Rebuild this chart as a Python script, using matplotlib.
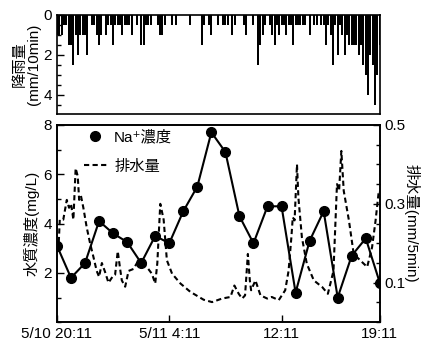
import matplotlib
matplotlib.use('Agg')
import matplotlib.pyplot as plt
from matplotlib.lines import Line2D
from matplotlib.ticker import MultipleLocator

plt.rcParams['font.family'] = ['Liberation Sans', 'Noto Sans CJK JP', 'DejaVu Sans']
plt.rcParams['font.size'] = 11

# hours after 5/10 20:11
xtick_pos = [0, 8, 16, 23]
xtick_labels = ['5/10 20:11', '5/11 4:11', '12:11', '19:11']

# rainfall every 10 min (mm/10min)
rain = [1.0, 1.0, 1.0, 0.5, 0.5, 1.5, 1.5, 2.5, 1.0, 2.0,
        1.0, 1.0, 1.0, 2.0, 0.0, 0.5, 0.5, 1.0, 1.5, 1.0,
        0.0, 1.0, 0.5, 0.5, 1.5, 0.5, 0.5, 0.5, 1.0, 0.5,
        0.5, 0.5, 1.0, 0.0, 0.5, 0.0, 1.5, 1.5, 0.5, 0.5,
        0.5, 0.0, 0.0, 0.5, 1.0, 1.0, 0.5, 0.0, 0.0, 0.5,
        0.0, 0.5, 0.0, 0.0, 0.0, 0.0, 0.0, 0.5, 0.0, 0.0,
        0.0, 0.0, 1.5, 0.5, 0.0, 0.5, 1.0, 0.0, 0.0, 0.5,
        0.0, 0.5, 0.5, 0.5, 0.0, 1.0, 0.5, 0.0, 0.0, 0.0,
        0.5, 1.0, 0.0, 0.0, 0.5, 0.0, 2.5, 1.5, 1.0, 0.5,
        0.0, 0.5, 1.0, 1.5, 0.5, 1.0, 0.5, 0.5, 1.0, 0.5,
        0.5, 1.5, 0.5, 0.5, 0.5, 0.5, 0.5, 0.0, 1.0, 0.0,
        0.5, 0.5, 0.0, 0.5, 0.5, 1.5, 0.5, 1.0, 2.5, 0.5,
        2.0, 0.5, 1.0, 2.0, 1.0, 1.5, 1.5, 1.5, 1.5, 2.0,
        1.5, 2.5, 3.0, 4.0, 2.0, 2.5, 4.5, 3.0, 1.5]
rain_t = [i / 6 for i in range(len(rain))]

# Na+ concentration, hourly (mg/L)
na_t = list(range(24))
na = [3.1, 1.8, 2.4, 4.1, 3.6, 3.25, 2.4, 3.5, 3.2, 4.5, 5.5, 7.7,
      6.9, 4.3, 3.2, 4.7, 4.7, 1.2, 3.3, 4.5, 1.0, 2.7, 3.4, 1.6]

# discharge (mm/5min)
q_t = [0.0, 0.1, 0.2, 0.45, 0.7, 0.86, 1.0, 1.17, 1.33, 1.48, 1.58, 1.71,
       1.88, 2.12, 2.36, 2.6, 2.83, 3.0, 3.2, 3.43, 3.67, 3.95, 4.14, 4.33,
       4.5, 4.62, 4.86, 5.1, 5.45, 5.7, 6.05, 6.4, 6.76, 7.0, 7.15, 7.36,
       7.6, 7.83, 8.2, 8.8, 9.5, 10.45, 11.05, 11.76, 12.36, 12.64, 12.95,
       13.19, 13.4, 13.6, 13.74, 13.83, 14.14, 14.5, 14.98, 15.3, 15.8,
       16.26, 16.5, 16.7, 16.8, 16.93, 17.1, 17.2, 17.45, 17.8, 18.3, 18.9,
       19.3, 19.7, 19.95, 20.1, 20.26, 20.43, 20.8, 21.14, 21.6, 22.1,
       22.45, 22.7, 22.93, 23.0]
q = [0.2, 0.18, 0.26, 0.26, 0.31, 0.29, 0.30, 0.26, 0.39, 0.37, 0.31, 0.32,
     0.29, 0.24, 0.20, 0.165, 0.13, 0.115, 0.15, 0.127, 0.10, 0.115, 0.12, 0.18,
     0.135, 0.106, 0.09, 0.13, 0.135, 0.15, 0.149, 0.14, 0.123, 0.098, 0.15, 0.30,
     0.26, 0.157, 0.123, 0.098, 0.077, 0.057, 0.051, 0.06, 0.064, 0.093, 0.072,
     0.06, 0.068, 0.173, 0.106, 0.081, 0.106, 0.068, 0.06, 0.064, 0.056,
     0.081, 0.13, 0.215, 0.266, 0.258, 0.40, 0.316, 0.215, 0.148, 0.106, 0.089,
     0.072, 0.13, 0.35, 0.333, 0.434, 0.333, 0.258, 0.173, 0.157, 0.14,
     0.19, 0.258, 0.333, 0.33]

fig = plt.figure(figsize=(4.22, 3.45), dpi=100)
ax1 = fig.add_axes([0.135, 0.670, 0.765, 0.287])
ax2 = fig.add_axes([0.135, 0.066, 0.765, 0.572])
ax3 = ax2.twinx()

# rainfall
ax1.bar(rain_t, rain, width=1 / 6 * 0.85, color='k', align='center')
ax1.set_xlim(0, 23)
ax1.set_ylim(4.95, 0)
ax1.set_yticks([0, 2, 4])
ax1.yaxis.set_minor_locator(MultipleLocator(0.5))
ax1.set_xticks([])
ax1.set_ylabel('降雨量\n(mm/10min)', linespacing=1.0, labelpad=2)

# Na+
ax2.plot(na_t, na, color='k', lw=1.5, marker='o', ms=7)
ax2.set_xlim(0, 23)
ax2.set_ylim(0, 8)
ax2.set_yticks([2, 4, 6, 8])
ax2.yaxis.set_minor_locator(MultipleLocator(1))
ax2.set_xticks(xtick_pos)
ax2.set_xticklabels(xtick_labels)
ax2.set_ylabel('水質濃度(mg/L)', labelpad=3)

# discharge
ax3.plot(q_t, q, color='k', lw=1.5, ls='--', dashes=(2.5, 1.6))
ax3.set_ylim(0, 0.5)
ax3.set_yticks([0.1, 0.3, 0.5])
ax3.set_yticklabels(['0.1', '0.3', '0.5'])
ax3.yaxis.set_minor_locator(MultipleLocator(0.05))
ax3.set_ylabel('排水量(mm/5min)', rotation=270, labelpad=10)

for ax in (ax1, ax2, ax3):
    ax.tick_params(which='major', direction='in', length=5, width=1)
    ax.tick_params(which='minor', direction='in', length=3, width=1)
    for s in ax.spines.values():
        s.set_linewidth(1.2)

handles = [Line2D([], [], color='k', marker='o', ls='none', ms=7),
           Line2D([], [], color='k', lw=1.5, ls='--', dashes=(2.5, 1.6))]
ax2.legend(handles, ['Na⁺濃度', '排水量'], loc='upper left',
           bbox_to_anchor=(0.04, 1.045), frameon=False,
           labelspacing=1.0, handlelength=1.5, handletextpad=0.5)

plt.savefig('out.png', dpi=100)
